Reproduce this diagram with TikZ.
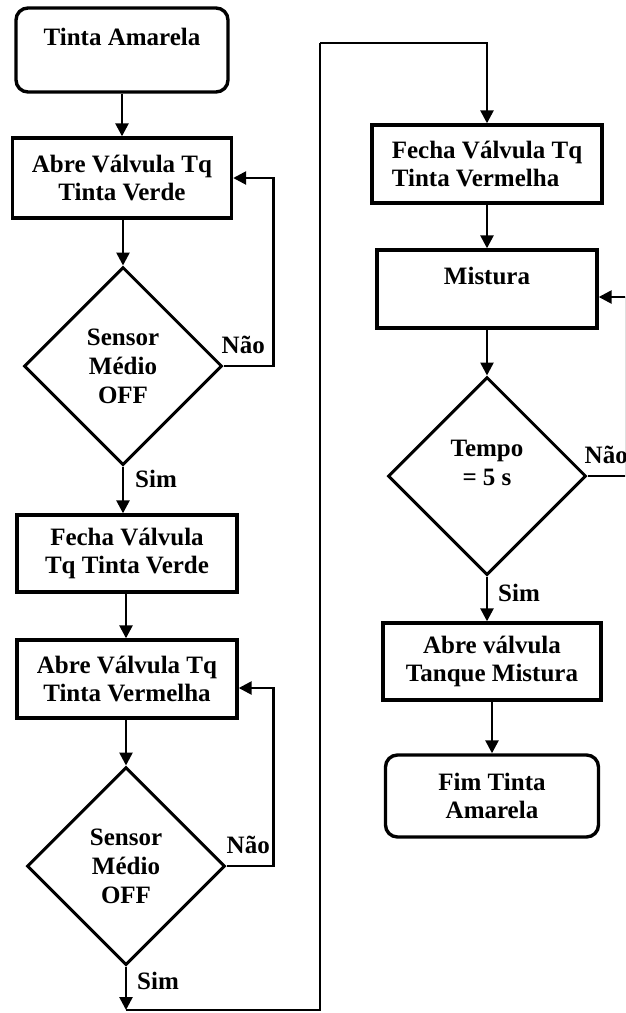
\documentclass[tikz,border=0pt]{standalone}
\usepackage{fontspec}
\setmainfont{Liberation Serif}
\usetikzlibrary{shapes.geometric,arrows.meta,calc}
\tikzset{
  box/.style={draw, line width=3.4pt, rectangle, inner sep=0pt, align=center, font=\fontsize{25}{28}\selectfont\bfseries},
  rbox/.style={box, rounded corners=12pt},
  dec/.style={draw, line width=3pt, diamond, aspect=1, inner sep=0pt, align=center, font=\fontsize{25}{29}\selectfont\bfseries},
  lbl/.style={inner sep=0pt, font=\fontsize{25}{28}\selectfont\bfseries},
  conn/.style={line width=2.6pt, -{Triangle[length=13pt,width=13pt]}},
  plain/.style={line width=2.6pt},
}
\begin{document}
\begin{tikzpicture}[x=1pt,y=-1pt]
\useasboundingbox (0,0) rectangle (625,1013);
\clip (0,0) rectangle (625,1013);
\fill[white] (0,0) rectangle (625,1013);
% column 1
\node[rbox, minimum width=212pt, minimum height=84pt] (start) at (122,50) {Tinta Amarela\\[-2pt]\phantom{X}};
\node[box, minimum width=219pt, minimum height=80pt] (b1) at (122,178) {Abre Válvula Tq\\Tinta Verde};
\node[dec, minimum width=198pt, minimum height=198pt] (d1) at (123,366) {Sensor\\Médio\\OFF};
\node[box, minimum width=220pt, minimum height=77pt] (b3) at (127,553.5) {Fecha Válvula\\Tq Tinta Verde};
\node[box, minimum width=220pt, minimum height=78pt] (b4) at (127,679) {Abre Válvula Tq\\Tinta Vermelha};
\node[dec, minimum width=198pt, minimum height=198pt] (d2) at (126,866) {Sensor\\Médio\\OFF};
\coordinate (c1) at (126,1010);
\coordinate (c2) at (320,1010);
\coordinate (c3) at (320,43);
% column 2
\node[box, minimum width=230pt, minimum height=78pt, align=left] (b5) at (487,164) {Fecha Válvula Tq\\Tinta Vermelha};
\node[box, minimum width=220pt, minimum height=78pt] (b6) at (487,289) {Mistura\\[-2pt]\phantom{X}};
\node[dec, minimum width=198pt, minimum height=198pt] (d3) at (487,476) {Tempo\\= 5 s\\[-2pt]\phantom{X}};
\node[box, minimum width=218pt, minimum height=77pt] (b7) at (492,661.5) {Abre válvula\\Tanque Mistura};
\node[rbox, minimum width=213pt, minimum height=82pt] (b8) at (492,796) {Fim Tinta\\Amarela};
\coordinate (c4) at (626,476);
\coordinate (c5) at (626,297);
% connectors
\draw[conn] (start.south) -- (start.south |- b1.north);
\draw[conn] (d1.north |- b1.south) -- (d1.north);
\draw[conn] (d1.east) -- ++(50,0) |- (b1.east);
\draw[conn] (d1.south) -- (d1.south |- b3.north);
\draw[conn] (b3.south -| d2.north) -- (b4.north -| d2.north);
\draw[conn] (b4.south -| d2.north) -- (d2.north);
\draw[conn] (d2.east) -- ++(47,0) |- ($(b4.east)+(0,9)$);
\draw[conn] (d2.south) -- (c1);
\draw[plain] (c1) -- (c2) -- (c3);
\draw[conn] (c3) -| (b5.north);
\draw[conn] (b5.south) -- (b6.north);
\draw[conn] (b6.south) -- (d3.north);
\draw[plain] (d3.east) -- (c4) -- (c5);
\draw[conn] (c5) -- (c5 -| b6.east);
\draw[conn] (d3.south) -- (d3.south |- b7.north);
\draw[conn] (b7.south -| b8.north) -- (b8.north);
% labels
\node[lbl, anchor=base west] (n1) at ($(d1.east)+(-2,-13)$) {Não};
\node[lbl, anchor=base west] (s1) at ($(d1.south)+(12,21)$) {Sim};
\node[lbl, anchor=base west] (n2) at ($(d2.east)+(0,-13)$) {Não};
\node[lbl, anchor=base west] (s2) at ($(d2.south)+(11,23)$) {Sim};
\node[lbl, anchor=base west] (n3) at ($(d3.east)+(-3,-13)$) {Não};
\node[lbl, anchor=base west] (s3) at ($(d3.south)+(11,25)$) {Sim};
\end{tikzpicture}
\end{document}
